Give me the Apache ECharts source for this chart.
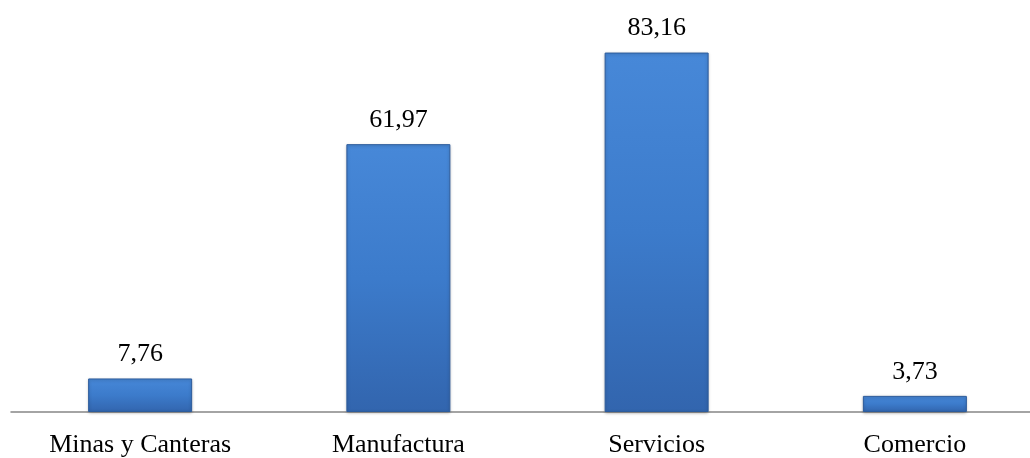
<!DOCTYPE html>
<html>
<head>
<meta charset="utf-8">
<script src="https://cdn.jsdelivr.net/npm/echarts@6/dist/echarts.min.js"></script>
<style>
html,body{margin:0;padding:0;background:#fff;overflow:hidden;width:1030px;height:458px;}
#chart{width:1046px;height:458px;}
</style>
</head>
<body>
<div id="chart"></div>
<script>
var categories = ["Minas y Canteras", "Manufactura", "Servicios", "Comercio"];
var values = [7.76, 61.97, 83.16, 3.73];

var chart = echarts.init(document.getElementById('chart'));
chart.setOption({
  animation: false,
  grid: { left: 11, right: 2, top: 23, height: 390.5 },
  xAxis: {
    type: 'category',
    data: categories,
    axisTick: { show: false },
    axisLine: { lineStyle: { color: '#868686', width: 1.5 } },
    axisLabel: {
      color: '#000',
      fontFamily: 'Liberation Serif',
      fontSize: 26,
      margin: 20
    }
  },
  yAxis: {
    type: 'value',
    min: 0,
    max: 90,
    show: false,
    splitLine: { show: false }
  },
  series: [{
    type: 'bar',
    data: values,
    barWidth: 104,
    itemStyle: {
      color: new echarts.graphic.LinearGradient(0, 0, 0, 1, [
        { offset: 0, color: '#4788d8' },
        { offset: 0.5, color: '#3c7bcb' },
        { offset: 1, color: '#3265ae' }
      ]),
      borderColor: '#2d5c9c',
      borderWidth: 1,
      shadowColor: 'rgba(0,0,0,0.25)',
      shadowBlur: 3,
      shadowOffsetY: 1
    },
    label: {
      show: true,
      position: 'top',
      distance: 11,
      color: '#000',
      fontFamily: 'Liberation Serif',
      fontSize: 26,
      formatter: function (p) { return p.value.toFixed(2).replace('.', ','); }
    }
  }]
});
</script>
</body>
</html>
